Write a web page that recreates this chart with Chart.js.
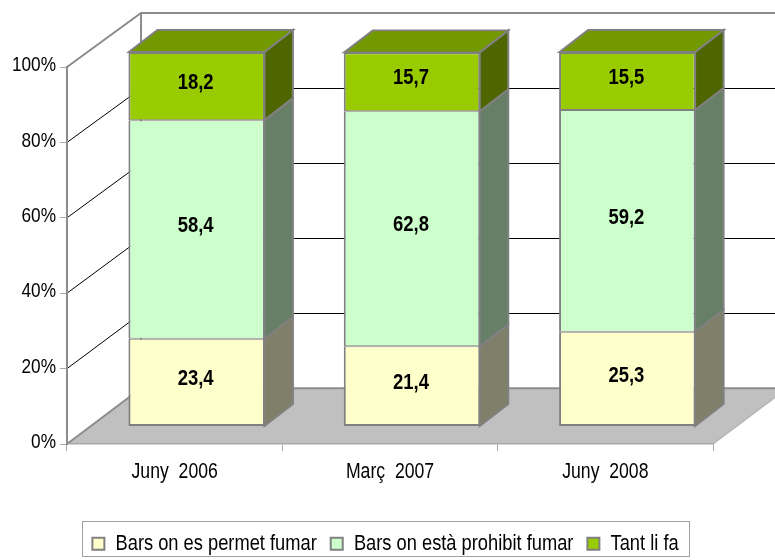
<!DOCTYPE html>
<html><head><meta charset="utf-8">
<style>html,body{margin:0;padding:0;background:#fff}#w{width:775px;height:560px}</style>
<script src="https://cdn.jsdelivr.net/npm/chart.js@4"></script></head>
<body><div id="w"><canvas id="c" width="775" height="560"></canvas></div>
<script>
const categories = ["Juny  2006", "Març  2007", "Juny  2008"];
const permet = [23.4, 21.4, 25.3];
const prohibit = [58.4, 62.8, 59.2];
const tantLiFa = [18.2, 15.7, 15.5];
const seriesNames = ["Bars on es permet fumar", "Bars on està prohibit fumar", "Tant li fa"];
const fillColors = ["#FFFFCC", "#CCFFCC", "#99CC00"];
const sideColors = ["#80806A", "#667F66", "#4D6600"];
const topColor = "#739900";
const tickValues = [0, 20, 40, 60, 80, 100];

const FONT = '"Liberation Sans", sans-serif';
const NARROW = 0.82;
const GREY = "#8C8C8C";
const WALL = {dx: 74, sy: 374.3 / 376, ty: 387.3 - 443 * 374.3 / 376};
const BAR_PLANE = {dx: 22, sy: 373.5 / 376, ty: 425.5 - 443 * 373.5 / 376};
const BAR_DEPTH = {dx: 28.5, dy: -22};
const EDGES = [{top: 1, bottom: 2, left: 2, right: 2}, {top: 1, bottom: 1, left: 2, right: 2}, {top: 2, bottom: 1, left: 2, right: 2}];

// Arial-Narrow look: every text is drawn horizontally condensed
const canvas = document.getElementById("c");
const c2d = canvas.getContext("2d");
const rawFill = c2d.fillText.bind(c2d), rawMeasure = c2d.measureText.bind(c2d);
c2d.fillText = function (t, x, y, m) {
  c2d.save(); c2d.translate(x, y); c2d.scale(NARROW, 1);
  if (m === undefined) rawFill(t, 0, 0); else rawFill(t, 0, 0, m / NARROW);
  c2d.restore();
};
c2d.measureText = function (t) { return {width: rawMeasure(t).width * NARROW}; };

function poly(ctx, pts, fill, stroke, lw) {
  ctx.beginPath();
  pts.forEach((p, i) => i ? ctx.lineTo(p[0], p[1]) : ctx.moveTo(p[0], p[1]));
  ctx.closePath();
  if (fill) { ctx.fillStyle = fill; ctx.fill(); }
  if (stroke) { ctx.strokeStyle = stroke; ctx.lineWidth = lw; ctx.lineJoin = "miter"; ctx.stroke(); }
}

const scene3d = {
  id: "scene3d",
  afterLayout(chart) {
    const l = chart.legend;
    const w = l.width, h = l.height;
    l.left = 385.5 - w / 2; l.right = l.left + w;
    l.top = 518.5; l.bottom = l.top + h;
  },
  beforeDraw(chart) {
    const {ctx, chartArea: a, scales} = chart;
    const y = scales.y;
    const back = py => py * WALL.sy + WALL.ty;
    const bx = a.left + WALL.dx, by0 = back(a.bottom), rx = a.right + WALL.dx;
    ctx.save();
    poly(ctx, [[a.left, a.bottom], [a.right, a.bottom], [rx, by0], [bx, by0]], "#C0C0C0", null);
    ctx.strokeStyle = GREY; ctx.lineWidth = 2;
    ctx.beginPath(); ctx.moveTo(bx, by0); ctx.lineTo(rx, by0); ctx.stroke();
    ctx.beginPath(); ctx.moveTo(a.left, a.bottom); ctx.lineTo(bx, by0); ctx.stroke();
    ctx.strokeStyle = "#B4B4B4"; ctx.lineWidth = 1.5;
    ctx.beginPath(); ctx.moveTo(a.right, a.bottom); ctx.lineTo(rx, by0); ctx.stroke();
    ctx.strokeStyle = "#000"; ctx.lineWidth = 1;
    tickValues.slice(1, -1).forEach(v => {
      const py = y.getPixelForValue(v);
      const by = Math.floor(back(py)) + 0.5;
      ctx.beginPath(); ctx.moveTo(a.left, py); ctx.lineTo(bx, by); ctx.lineTo(rx, by); ctx.stroke();
    });
    const tp = y.getPixelForValue(100), bt = back(tp);
    ctx.strokeStyle = GREY; ctx.lineWidth = 2;
    ctx.beginPath();
    ctx.moveTo(a.left, tp); ctx.lineTo(bx, bt); ctx.lineTo(rx, bt);
    ctx.moveTo(bx, bt); ctx.lineTo(bx, by0);
    ctx.stroke();
    ctx.restore();
  },
  beforeDatasetsDraw(chart) {
    const ctx = chart.ctx;
    ctx.save();
    ctx.transform(1, 0, 0, BAR_PLANE.sy, BAR_PLANE.dx, BAR_PLANE.ty);
    const d = {dx: BAR_DEPTH.dx, dy: BAR_DEPTH.dy / BAR_PLANE.sy};
    chart.data.datasets.forEach((ds, di) => {
      chart.getDatasetMeta(di).data.forEach(el => {
        const r = el.x + el.width / 2 - 0.5, l = el.x - el.width / 2 + 0.5;
        const t = el.y, bb = el.base;
        poly(ctx, [[r, t], [r + d.dx, t + d.dy], [r + d.dx, bb + d.dy], [r, bb]], sideColors[di], "#808080", 2);
        if (di === chart.data.datasets.length - 1) {
          poly(ctx, [[l, t], [l + d.dx, t + d.dy], [r + d.dx, t + d.dy], [r, t]], topColor, "#808080", 2);
        }
      });
    });
  },
  afterDatasetsDraw(chart) {
    const ctx = chart.ctx;
    ctx.restore();
    ctx.save();
    ctx.fillStyle = "#000";
    ctx.font = 'bold 22.5px ' + FONT;
    ctx.textAlign = "center"; ctx.textBaseline = "middle";
    chart.data.datasets.forEach((ds, di) => {
      chart.getDatasetMeta(di).data.forEach((el, i) => {
        const cy = (el.y + el.base) / 2 * BAR_PLANE.sy + BAR_PLANE.ty;
        ctx.fillText(ds.data[i].toFixed(1).replace(".", ","), el.x + BAR_PLANE.dx - 1, cy - 3.5);
      });
    });
    ctx.restore();
  },
  afterDraw(chart) {
    const l = chart.legend, ctx = chart.ctx, hb = l.legendHitBoxes;
    const x0 = Math.round(hb[0].left) - 10;
    const x1 = Math.round(hb[hb.length - 1].left + hb[hb.length - 1].width) + 10;
    ctx.save();
    ctx.strokeStyle = "#A0A0A0"; ctx.lineWidth = 1;
    ctx.strokeRect(x0 + 0.5, 521.5, x1 - x0, 35);
    ctx.restore();
  }
};

new Chart(canvas, {
  type: "bar",
  data: {
    labels: categories,
    datasets: [permet, prohibit, tantLiFa].map((vals, i) => ({
      label: seriesNames[i], data: vals,
      backgroundColor: fillColors[i], borderColor: "#808080", borderWidth: EDGES[i],
      borderSkipped: false, clip: false,
      barPercentage: 1, categoryPercentage: 0.634
    }))
  },
  options: {
    responsive: false, animation: false, devicePixelRatio: 1,
    layout: {padding: {left: 0, right: 62, top: 67, bottom: 0}},
    plugins: {
      title: {display: false}, tooltip: {enabled: false},
      legend: {
        position: "bottom",
        labels: {
          font: {family: FONT, size: 22.3}, color: "#000", boxWidth: 12, boxHeight: 12,
          padding: 14, generateLabels: c => c.data.datasets.map((ds, i) => ({
            text: ds.label, fillStyle: fillColors[i], strokeStyle: "#808080", lineWidth: 2, datasetIndex: i
          }))
        }
      }
    },
    scales: {
      x: {
        stacked: true,
        afterFit(s) { s.height = 116 - s.chart.legend.height; },
        grid: {drawOnChartArea: false, drawTicks: true, tickLength: 7, color: "#A8A8A8", lineWidth: 1},
        border: {color: "#A8A8A8", width: 1.5},
        ticks: {font: {family: FONT, size: 21.5}, color: "#000", padding: 8, maxRotation: 0}
      },
      y: {
        stacked: true, min: 0, max: 100,
        afterFit(s) { s.width = 67; },
        afterBuildTicks(s) { s.ticks = tickValues.map(v => ({value: v})); },
        grid: {drawOnChartArea: false, drawTicks: true, tickLength: 7, color: "#A8A8A8", lineWidth: 1},
        border: {color: GREY, width: 2},
        ticks: {font: {family: FONT, size: 21}, color: "#000", padding: 4, labelOffset: -1.5, callback: v => v + "%"}
      }
    }
  },
  plugins: [scene3d]
});
</script></body></html>
